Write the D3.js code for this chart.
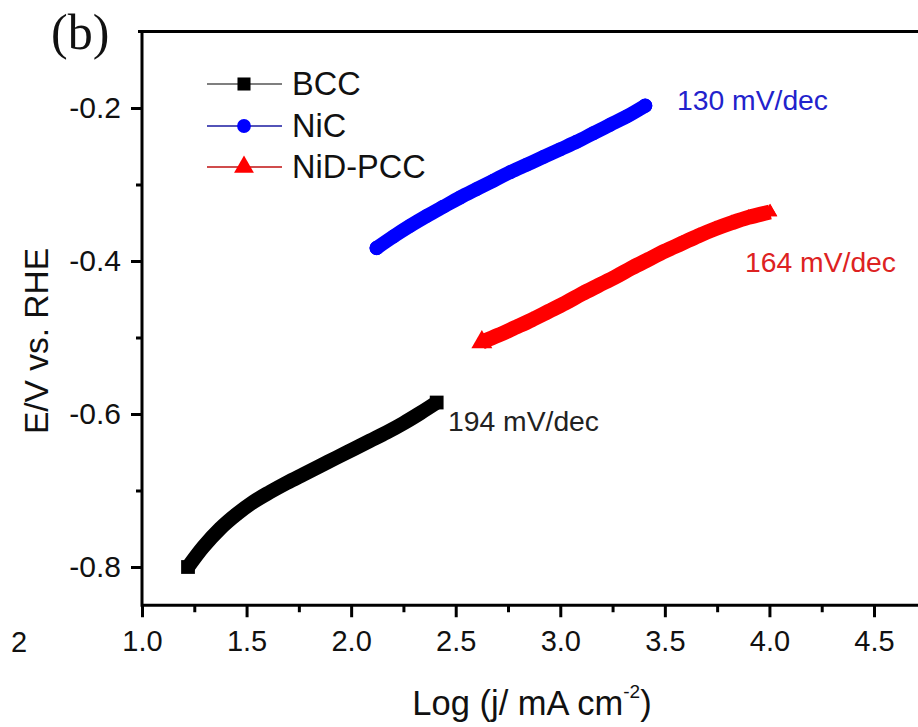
<!DOCTYPE html>
<html>
<head>
<meta charset="utf-8">
<script src="https://cdn.jsdelivr.net/npm/d3@7"></script>
<style>
  html, body { margin: 0; padding: 0; background: #fff; }
  svg { display: block; }
</style>
</head>
<body>
<svg id="chart" width="918" height="727"></svg>
<script>
// ---- data ----
const seriesNames = ["BCC", "NiC", "NiD-PCC"];
const seriesColors = ["#000000", "#0000ff", "#ff0000"];
const legendLineColors = ["#555555", "#1a1aa0", "#c01010"];

const bccX = [1.220, 1.292, 1.373, 1.453, 1.532, 1.612, 1.692, 1.771, 1.851, 1.930, 2.010, 2.090, 2.170, 2.250, 2.329, 2.409];
const bccY = [-0.800, -0.774, -0.750, -0.731, -0.715, -0.702, -0.690, -0.679, -0.668, -0.657, -0.646, -0.635, -0.624, -0.612, -0.599, -0.585];

const nicX = [2.122, 2.202, 2.282, 2.362, 2.441, 2.521, 2.600, 2.680, 2.760, 2.840, 2.920, 2.999, 3.079, 3.158, 3.238, 3.318, 3.406];
const nicY = [-0.383, -0.368, -0.354, -0.341, -0.329, -0.317, -0.306, -0.295, -0.284, -0.274, -0.264, -0.254, -0.244, -0.233, -0.222, -0.211, -0.197];

const nidX = [2.625, 2.704, 2.784, 2.863, 2.943, 3.023, 3.103, 3.182, 3.262, 3.342, 3.421, 3.501, 3.581, 3.660, 3.740, 3.820, 3.899, 4.003];
const nidY = [-0.506, -0.497, -0.487, -0.477, -0.466, -0.455, -0.443, -0.432, -0.421, -0.409, -0.398, -0.387, -0.377, -0.367, -0.358, -0.350, -0.343, -0.336];

const slopeLabels = ["194 mV/dec", "130 mV/dec", "164 mV/dec"];
const slopeColors = ["#222222", "#2222cc", "#dd2222"];

const xMajorTicks = [1.0, 1.5, 2.0, 2.5, 3.0, 3.5, 4.0, 4.5];
const xMinorTicks = [1.25, 1.75, 2.25, 2.75, 3.25, 3.75, 4.25, 4.75];
const yMajorTicks = [-0.8, -0.6, -0.4, -0.2];
const yMinorTicks = [-0.7, -0.5, -0.3];

const xTitle = "Log (j/ mA cm";
const xTitleSup = "-2";
const yTitle = "E/V vs. RHE";
const panelLabel = "(b)";
const strayLabel = "2";

// ---- layout ----
const svg = d3.select("#chart");
const plotLeft = 142, plotTop = 31.5, plotBottom = 605.25;
const x = d3.scaleLinear().domain([1.0, 4.5]).range([142, 874]);
const y = d3.scaleLinear().domain([-0.8, -0.2]).range([567, 108]);
const xRight = x(4.8);

const font = "'Liberation Sans', Arial, Helvetica, sans-serif";

// frame line on top
svg.append("line").attr("x1", plotLeft - 4).attr("x2", 918).attr("y1", plotTop).attr("y2", plotTop)
  .attr("stroke", "#000").attr("stroke-width", 3);

// Axes
const gx = svg.append("g").attr("transform", `translate(0,${plotBottom})`);
gx.call(d3.axisBottom(x).tickValues(xMajorTicks).tickSize(12).tickPadding(13)
  .tickFormat(d => d.toFixed(1)));
gx.append("g").call(d3.axisBottom(x).tickValues(xMinorTicks).tickSize(7).tickFormat(""));
gx.selectAll(".domain").remove();
gx.append("line").attr("x1", plotLeft).attr("x2", xRight).attr("y1", 0).attr("y2", 0)
  .attr("stroke", "#000").attr("stroke-width", 3);

const gy = svg.append("g").attr("transform", `translate(${plotLeft},0)`);
gy.call(d3.axisLeft(y).tickValues(yMajorTicks).tickSize(11).tickPadding(10)
  .tickFormat(d => d.toFixed(1)));
gy.append("g").call(d3.axisLeft(y).tickValues(yMinorTicks).tickSize(6).tickFormat(""));
gy.selectAll(".domain").remove();
gy.append("line").attr("x1", 0).attr("x2", 0).attr("y1", plotTop - 1.5).attr("y2", plotBottom + 1.5)
  .attr("stroke", "#000").attr("stroke-width", 3);

svg.selectAll(".tick line").attr("stroke", "#000").attr("stroke-width", 3);
gx.selectAll(".tick text").attr("font-family", font).attr("font-size", 29).attr("fill", "#111");
gy.selectAll(".tick text").attr("font-family", font).attr("font-size", 30).attr("fill", "#111");

// stray label at far left
svg.append("text").attr("x", 19).attr("y", 652).attr("text-anchor", "middle")
  .attr("font-family", font).attr("font-size", 29).attr("fill", "#111").text(strayLabel);

// ---- series ----
const series = [
  { xs: bccX, ys: bccY, sym: d3.symbolSquare, size: 100, width: 14.5, cap: "butt", endSizes: [190, 190] },
  { xs: nicX, ys: nicY, sym: d3.symbolCircle, size: 150, width: 14, cap: "round", endSizes: [160, 160] },
  { xs: nidX, ys: nidY, sym: d3.symbolTriangle, size: 90, width: 15, cap: "butt", endSizes: [190, 90] }
];

const line = d3.line().x(d => x(d[0])).y(d => y(d[1])).curve(d3.curveCatmullRom);

series.forEach((s, i) => {
  const pts = s.xs.map((v, k) => [v, s.ys[k]]);
  svg.append("path").datum(pts).attr("d", line)
    .attr("fill", "none").attr("stroke", seriesColors[i])
    .attr("stroke-width", s.width).attr("stroke-linecap", s.cap).attr("stroke-linejoin", "round");
  svg.append("g").selectAll("path").data(pts).join("path")
    .attr("transform", d => `translate(${x(d[0])},${y(d[1])})`)
    .attr("d", d3.symbol().type(s.sym).size(s.size))
    .attr("fill", seriesColors[i]);
  // end markers at the first and last points
  const ends = [[s.xs[0], s.ys[0], s.endSizes[0]], [s.xs[s.xs.length - 1], s.ys[s.ys.length - 1], s.endSizes[1]]];
  svg.append("g").selectAll("path").data(ends).join("path")
    .attr("transform", d => `translate(${x(d[0])},${y(d[1])})`)
    .attr("d", d => d3.symbol().type(s.sym).size(d[2])())
    .attr("fill", seriesColors[i]);
});

// slope annotations
const slopePos = [[448, 431], [677, 110], [745, 272]];
slopeLabels.forEach((t, i) => {
  svg.append("text").attr("x", slopePos[i][0]).attr("y", slopePos[i][1])
    .attr("font-family", font).attr("font-size", 28.3).attr("fill", slopeColors[i]).text(t);
});

// ---- legend ----
const legY = [84, 126, 167];
const legSyms = [d3.symbolSquare, d3.symbolCircle, d3.symbolTriangle];
const legSizes = [170, 150, 170];
seriesNames.forEach((n, i) => {
  svg.append("line").attr("x1", 207).attr("x2", 282).attr("y1", legY[i]).attr("y2", legY[i])
    .attr("stroke", legendLineColors[i]).attr("stroke-width", 1.5);
  svg.append("path").attr("transform", `translate(244,${legY[i]})`)
    .attr("d", d3.symbol().type(legSyms[i]).size(legSizes[i])).attr("fill", seriesColors[i]);
  svg.append("text").attr("x", 292).attr("y", legY[i] + 11)
    .attr("font-family", font).attr("font-size", 32.5).attr("fill", "#111").text(n);
});

// ---- titles ----
const xt = svg.append("text").attr("x", 532).attr("y", 715).attr("text-anchor", "middle")
  .attr("font-family", font).attr("font-size", 34.5).attr("fill", "#111");
xt.append("tspan").text(xTitle);
xt.append("tspan").attr("font-size", 19).attr("dy", -17).text(xTitleSup);
xt.append("tspan").attr("dy", 17).text(")");

svg.append("text").attr("transform", "translate(47.5,341) rotate(-90)").attr("text-anchor", "middle")
  .attr("font-family", font).attr("font-size", 33.5).attr("fill", "#111").text(yTitle);

svg.append("text").attr("x", 51).attr("y", 49)
  .attr("font-family", "'Liberation Serif', 'Times New Roman', serif").attr("font-size", 50)
  .attr("fill", "#111").text(panelLabel);
</script>
</body>
</html>
